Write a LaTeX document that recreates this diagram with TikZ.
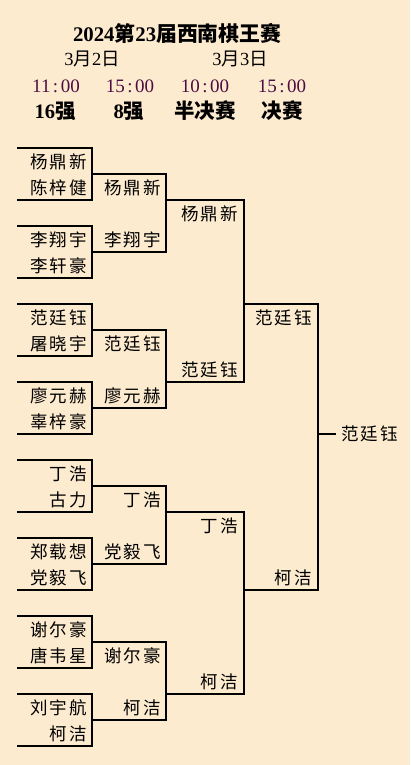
\documentclass[tikz,border=0pt]{standalone}
\usepackage{fontspec}
\setmainfont{Liberation Serif}
\newfontfamily\cjk{Noto Sans CJK SC}
\newfontfamily\cjkname[LetterSpace=12]{Noto Sans CJK SC}
\usetikzlibrary{calc}
\definecolor{paper}{RGB}{253,235,207}
\definecolor{timepurple}{RGB}{78,12,66}

\tikzset{
  player/.style={anchor=east, inner sep=0pt, font=\cjkname\fontsize{17.5}{17.5}\selectfont},
  bracket/.style={line width=1.3pt, line cap=rect},
  slot/.style={inner sep=0pt, font=\fontsize{19}{19}\selectfont, text=timepurple},
  stage/.style={inner sep=0pt, font=\bfseries\fontsize{20.5}{20.5}\selectfont},
  day/.style={inner sep=0pt, font=\fontsize{18.5}{18.5}\selectfont},
}

\begin{document}
\begin{tikzpicture}[x=1pt, y=-1pt]
    \fill[paper] (0,0) rectangle (410,765);
    \useasboundingbox (0,0) rectangle (410,765);

    % Titulo y horario
    \node[inner sep=0pt, font=\bfseries\fontsize{20.8}{20.8}\selectfont] (title) at (177,33) {2024{\cjk 第}23{\cjk 届西南棋王赛}};
    \node[day] (day2) at (92,59) {3{\cjk 月}2{\cjk 日}};
    \node[day] (day3) at (240,59) {3{\cjk 月}3{\cjk 日}};
    \foreach \x/\t [count=\i] in {56/11, 130/15, 205/10, 282/15}
      \node[slot] (time\i) at (\x,86) {\t\hspace{2.5pt}:\hspace{2.5pt}00};
    \node[stage] (st16) at (55,111) {16{\cjk 强}};
    \node[stage] (st8) at (129,111) {8{\cjk 强}};
    \node[stage] (semi) at (205,111) {\cjk 半决赛};
    \node[stage] (fin) at (282,111) {\cjk 决赛};

    % 16强
    \foreach \k/\a/\b in {0/杨鼎新/陈梓健, 1/李翔宇/李轩豪, 2/范廷钰/屠晓宇, 3/廖元赫/辜梓豪,
                          4/丁浩/古力, 5/郑载想/党毅飞, 6/谢尔豪/唐韦星, 7/刘宇航/柯洁} {
      \draw[bracket] (18,{148+78*\k}) -| (92,{200+78*\k}) -- (18,{200+78*\k});
      \node[player] (ra\k) at (87,{162+78*\k}) {\a};
      \node[player] (rb\k) at (87,{188+78*\k}) {\b};
    }

    % 8强
    \foreach \k/\a/\b in {0/杨鼎新/李翔宇, 1/范廷钰/廖元赫, 2/丁浩/党毅飞, 3/谢尔豪/柯洁} {
      \draw[bracket] (92,{174+156*\k}) -| (166,{252+156*\k}) -- (92,{252+156*\k});
      \node[player] (qa\k) at (161,{188+156*\k}) {\a};
      \node[player] (qb\k) at (161,{240+156*\k}) {\b};
    }

    % 半决赛
    \foreach \k/\a/\b in {0/杨鼎新/范廷钰, 1/丁浩/柯洁} {
      \draw[bracket] (166,{200+312*\k}) -| (244,{382+312*\k}) -- (166,{382+312*\k});
      \node[player] (sa\k) at (238,{214+312*\k}) {\a};
      \node[player] (sb\k) at (238,{370+312*\k}) {\b};
    }

    % 决赛
    \draw[bracket] (244,304) -| (318,590) -- (244,590);
    \node[player] (fa) at (312,318) {范廷钰};
    \node[player] (fb) at (312,578) {柯洁};
    \coordinate (fmid) at (318,434);
    \node[player, anchor=west] (champ) at (341,434) {范廷钰};
    \draw[bracket] (fmid) -- ($(champ.west)+(-6,0)$);
\end{tikzpicture}
\end{document}
